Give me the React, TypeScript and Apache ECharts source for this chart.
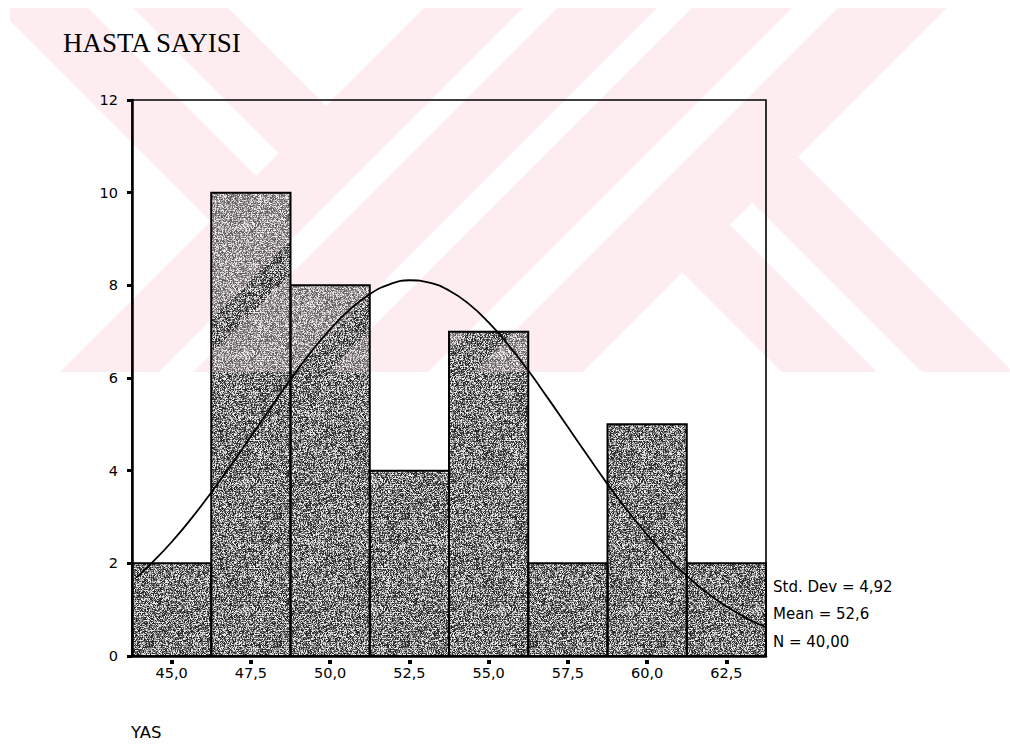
import { useEffect, useRef } from "react";
import * as echarts from "echarts";

// Histogram of patient ages (YAS) with fitted normal curve
const BIN_CENTERS = [45, 47.5, 50, 52.5, 55, 57.5, 60, 62.5];
const COUNTS = [2, 10, 8, 4, 7, 2, 5, 2];
const BIN_WIDTH = 2.5;
const X_TICK_LABELS = ["45,0", "47,5", "50,0", "52,5", "55,0", "57,5", "60,0", "62,5"];

// Normal curve
const CURVE_AGE = [
  43.9, 44.375, 45, 45.625, 46.25, 46.875, 47.5, 48.125, 48.75, 49.375, 50,
  50.625, 51.25, 51.875, 52.5, 53.125, 53.75, 54.375, 55, 55.625, 56.25,
  56.875, 57.5, 58.125, 58.75, 59.375, 60, 60.625, 61.25, 61.875, 62.5,
  63.125, 63.75,
];
const CURVE_N = [
  1.7, 2.01, 2.46, 2.97, 3.53, 4.12, 4.74, 5.36, 5.97, 6.54, 7.05, 7.48,
  7.81, 8.02, 8.11, 8.06, 7.89, 7.6, 7.2, 6.71, 6.16, 5.56, 4.94, 4.32, 3.71,
  3.14, 2.62, 2.14, 1.73, 1.37, 1.07, 0.82, 0.62,
];

const STATS_LINES = ["Std. Dev = 4,92", "Mean = 52,6", "N = 40,00"];
const Y_TITLE = "HASTA SAYISI";
const X_TITLE = "YAS";

const SANS = '"DejaVu Sans", Verdana, sans-serif';
// pink emblem behind the page, plus a faint wash of it over the bar fills
const EMBLEM_PINK = "#fdedf0";
const EMBLEM_WASH = "rgba(255, 238, 241, 0.27)";

const EMBLEM_BANDS: number[][][] = [
  [[10, 8], [88, 8], [256, 176], [210.5, 221.5], [10, 21]],
  [[133, 8], [228, 8], [326, 106], [278.5, 153.5]],
  [[424, 8], [523, 8], [159, 372], [60, 372]],
  [[557, 8], [657, 8], [293, 372], [193, 372]],
  [[692, 8], [792, 8], [428, 372], [328, 372]],
  [[838, 8], [947, 8], [583, 372], [474, 372]],
  [[798, 157], [1010, 369], [1010, 372], [922, 372], [752.5, 202.5]],
  [[730, 225], [877, 372], [782, 372], [682.5, 272.5]],
];

// speckled grey fill for the bars
function grainTexture(): string {
  const size = 128;
  const c = document.createElement("canvas");
  c.width = size;
  c.height = size;
  const ctx = c.getContext("2d");
  if (!ctx) return "";
  const img = ctx.createImageData(size, size);
  const hash = (x: number, y: number) => {
    let n = (Math.imul(x, 374761393) + Math.imul(y, 668265263)) | 0;
    n = Math.imul(n ^ (n >>> 13), 1274126177);
    n ^= n >>> 16;
    return (n >>> 0) / 4294967296;
  };
  for (let y = 0; y < size; y++) {
    const rowBias = y % 2 === 0 ? 0.08 : -0.05;
    for (let x = 0; x < size; x++) {
      const t = hash(x, y) + rowBias;
      let v = 40;
      if (t >= 0.78) v = 232;
      else if (t >= 0.55) v = 165;
      else if (t >= 0.3) v = 100;
      const i = (y * size + x) * 4;
      img.data[i] = v;
      img.data[i + 1] = v;
      img.data[i + 2] = v;
      img.data[i + 3] = 255;
    }
  }
  ctx.putImageData(img, 0, 0);
  return c.toDataURL("image/png");
}

export default function App() {
  const ref = useRef<HTMLDivElement>(null);

  useEffect(() => {
    if (!ref.current) return;
    const chart = echarts.init(ref.current, undefined, { renderer: "svg" });
    const grain = grainTexture();

    const barData = BIN_CENTERS.map((c, i) => [c, COUNTS[i]]);
    const curveData = CURVE_AGE.map((a, i) => [a, CURVE_N[i]]);

    const binRect = (api: any) => {
      const c = api.value(0);
      const v = api.value(1);
      const p0 = api.coord([c - BIN_WIDTH / 2, v]);
      const p1 = api.coord([c + BIN_WIDTH / 2, 0]);
      return { x: p0[0], y: p0[1], width: p1[0] - p0[0], height: p1[1] - p0[1] };
    };

    const graphic: any[] = [
      ...EMBLEM_BANDS.map((pts) => ({
        type: "polygon",
        silent: true,
        z: -10,
        shape: { points: pts },
        style: { fill: EMBLEM_PINK },
      })),
      ...EMBLEM_BANDS.map((pts) => ({
        type: "polygon",
        silent: true,
        z: 4,
        shape: { points: pts },
        style: { fill: EMBLEM_WASH },
      })),
      {
        type: "text",
        x: 63,
        y: 43,
        z: 10,
        style: {
          text: Y_TITLE,
          font: '27px "Liberation Serif", "Times New Roman", serif',
          fill: "#000",
          textVerticalAlign: "middle",
        },
      },
      {
        type: "text",
        x: 131,
        y: 732.5,
        z: 10,
        style: {
          text: X_TITLE,
          font: `16.5px ${SANS}`,
          fill: "#000",
          textVerticalAlign: "middle",
        },
      },
      ...STATS_LINES.map((t, i) => ({
        type: "text",
        x: 773,
        y: [587, 613.5, 642][i],
        z: 10,
        style: {
          text: t,
          font: `15px ${SANS}`,
          fill: "#000",
          textVerticalAlign: "middle",
        },
      })),
    ];

    chart.setOption({
      animation: false,
      backgroundColor: "#ffffff",
      grid: {
        left: 132,
        right: 244,
        top: 100,
        bottom: 90,
        show: true,
        z: 8,
        borderColor: "#000",
        borderWidth: 1.6,
        backgroundColor: "transparent",
      },
      graphic,
      xAxis: [
        {
          type: "value",
          min: BIN_CENTERS[0] - BIN_WIDTH / 2,
          max: BIN_CENTERS[BIN_CENTERS.length - 1] + BIN_WIDTH / 2,
          show: false,
        },
        {
          type: "category",
          data: X_TICK_LABELS,
          position: "bottom",
          boundaryGap: true,
          z: 8,
          axisLine: { lineStyle: { color: "#000", width: 2.5 } },
          axisTick: { show: false },
          axisLabel: { show: false },
          splitLine: { show: false },
        },
        {
          type: "category",
          data: X_TICK_LABELS,
          position: "bottom",
          offset: 4,
          boundaryGap: true,
          z: 8,
          axisLine: { show: false },
          axisTick: {
            show: true,
            alignWithLabel: true,
            length: 4,
            lineStyle: { color: "#000", width: 4 },
          },
          axisLabel: {
            color: "#000",
            fontFamily: SANS,
            fontSize: 14.5,
            margin: 5,
          },
          splitLine: { show: false },
        },
      ],
      yAxis: {
        type: "value",
        min: 0,
        max: 12,
        interval: 2,
        z: 8,
        axisLine: { show: true, lineStyle: { color: "#000", width: 2.5 } },
        axisTick: { show: true, length: 5, lineStyle: { color: "#000", width: 3 } },
        axisLabel: {
          color: "#000",
          fontFamily: SANS,
          fontSize: 14.5,
          margin: 14,
        },
        splitLine: { show: false },
      },
      series: [
        {
          // bar fills
          type: "custom",
          xAxisIndex: 0,
          yAxisIndex: 0,
          z: 3,
          data: barData,
          encode: { x: 0, y: 1 },
          renderItem: (_params: any, api: any) => ({
            type: "rect",
            shape: binRect(api),
            style: {
              fill: grain ? { image: grain, repeat: "repeat" } : "#7a7a7a",
            },
          }),
        },
        {
          // bar outlines
          type: "custom",
          xAxisIndex: 0,
          yAxisIndex: 0,
          z: 6,
          data: barData,
          encode: { x: 0, y: 1 },
          renderItem: (_params: any, api: any) => ({
            type: "rect",
            shape: binRect(api),
            style: { fill: "none", stroke: "#000", lineWidth: 2 },
          }),
        },
        {
          type: "line",
          xAxisIndex: 0,
          yAxisIndex: 0,
          z: 7,
          data: curveData,
          smooth: true,
          showSymbol: false,
          symbol: "none",
          lineStyle: { color: "#000", width: 1.8 },
        },
      ],
    });

    return () => chart.dispose();
  }, []);

  return (
    <div
      ref={ref}
      style={{ position: "absolute", left: 0, top: 0, width: 1010, height: 746 }}
    />
  );
}
